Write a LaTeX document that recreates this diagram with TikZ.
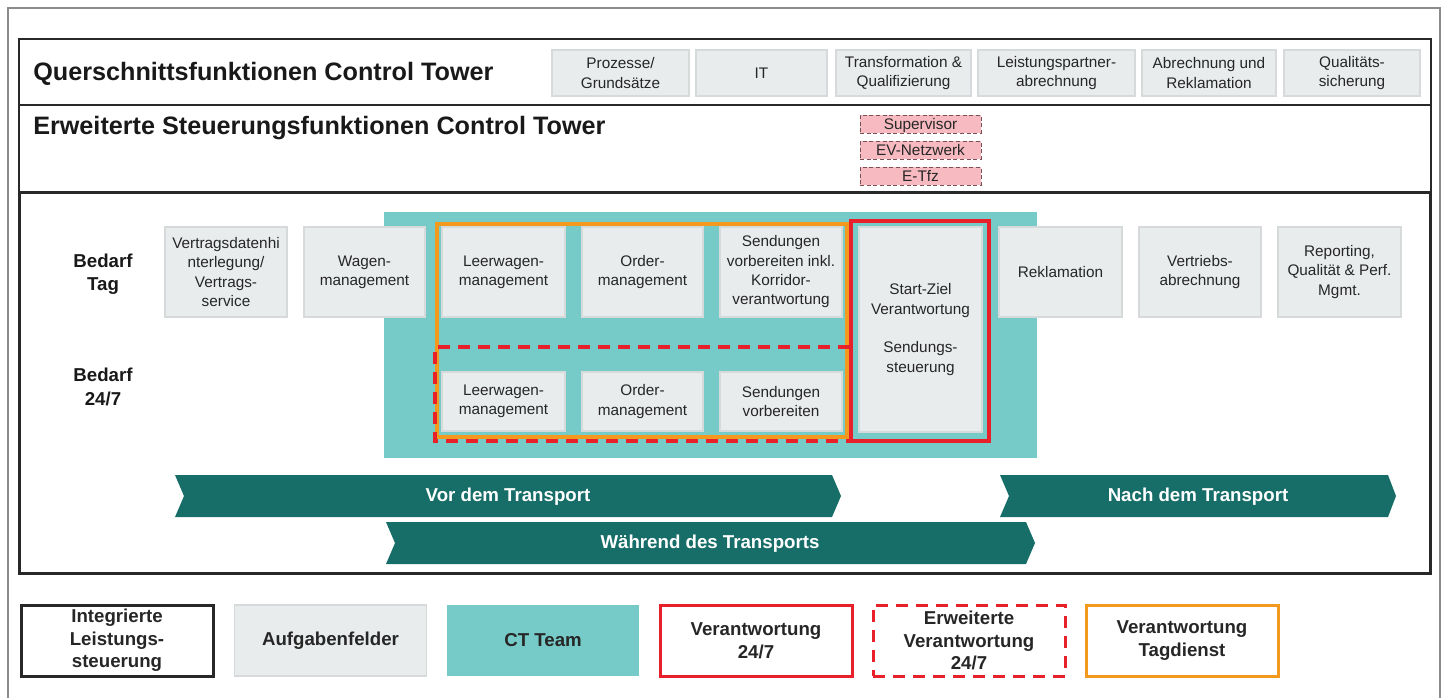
\documentclass[tikz,border=0pt]{standalone}
\usepackage{fontspec}
\setmainfont{Liberation Sans}
\usetikzlibrary{
    positioning,
    calc
}
\definecolor{BoxGray}{RGB}{233,236,237}
\definecolor{BoxLine}{RGB}{214,218,219}
\definecolor{TeamTeal}{RGB}{118,203,200}
\definecolor{PhaseTeal}{RGB}{23,110,105}
\definecolor{RespRed}{RGB}{232,32,42}
\definecolor{RespOrange}{RGB}{243,154,30}
\definecolor{PinkFill}{RGB}{246,186,192}
\definecolor{PinkLine}{RGB}{120,80,85}
\definecolor{TextDark}{RGB}{38,38,38}
\definecolor{FrameDark}{RGB}{40,40,40}

\tikzset{
    task/.style 2 args={draw=BoxLine, fill=BoxGray, line width=0.8pt, inner sep=1pt,
        align=center, text=TextDark, font=\fontsize{11.5}{14.5}\selectfont,
        minimum width={#1*0.75pt}, minimum height={#2*0.75pt}},
    role/.style={draw=PinkLine, densely dashed, line width=0.5pt, fill=PinkFill, inner sep=0pt,
        text=TextDark, font=\fontsize{11.5}{13}\selectfont, text depth=0pt,
        minimum width={121*0.75pt}, minimum height={18*0.75pt}},
    legend/.style={align=center, inner sep=1pt, text=TextDark,
        font=\fontsize{14}{17}\selectfont\bfseries,
        minimum width={192*0.75pt}, minimum height={71*0.75pt}},
    phase/.style={fill=PhaseTeal},
    phasetext/.style={text=white, font=\fontsize{14}{17}\selectfont\bfseries},
    heading/.style={anchor=west, text=black!90, inner sep=0pt, font=\fontsize{18.9}{22}\selectfont\bfseries},
    demand/.style={align=center, text=black!90, font=\fontsize{14}{17.5}\selectfont\bfseries},
}

\begin{document}
\begin{tikzpicture}[x=0.75pt, y=-0.75pt]
  \useasboundingbox (0,0) rectangle (1450,697);

  % outer frame
  \draw[black!45, line width=0.8pt] (8,700) -- (8,8) -- (1440,8) -- (1440,700);

  % ---- Querschnitt / erweiterte Funktionen ----
  \draw[FrameDark, line width=1.1pt] (19,192) -- (19,39) -- (1431,39) -- (1431,192);
  \draw[FrameDark, line width=1.1pt] (19,105) -- (1431,105);
  \node[heading] (qsTitle) at (33,74) {Querschnittsfunktionen Control Tower};
  \node[heading] (esTitle) at (33,128) {Erweiterte Steuerungsfunktionen Control Tower};

  \node[task={137}{46}] (qsProzesse) at (620.5,73) {Prozesse/\\Grundsätze};
  \node[task={131}{46}] (qsIT) at (761.5,73) {IT};
  \node[task={135}{46}] (qsTrans) at (903.5,73) {Transformation \&\\Qualifizierung};
  \node[task={157}{46}] (qsLeist) at (1056.5,73) {Leistungspartner-\\abrechnung};
  \node[task={134}{46}] (qsAbr) at (1209,73) {Abrechnung und\\Reklamation};
  \node[task={136}{46}] (qsQual) at (1352,73) {Qualitäts-\\sicherung};

  \node[role] (esSupervisor) at (920.5,124) {Supervisor};
  \node[role] (esNetz) at (920.5,150) {EV-Netzwerk};
  \node[role] (esTfz) at (920.5,176) {E-Tfz};

  % ---- Integrierte Leistungssteuerung ----
  \draw[FrameDark, line width=2.25pt] (19,192) rectangle (1430,573);

  % CT team area
  \fill[TeamTeal] (384,212) rectangle (1037,458);

  \node[demand] (bedarfTag) at (103,274) {Bedarf\\Tag};
  \node[demand] (bedarf247) at (103,387) {Bedarf\\24/7};

  % Row 1: Tag
  \node[task={122}{90}] (vertrag) at (226,272) {Vertragsdatenhi\\nterlegung/\\Vertrags-\\service};
  \node[task={121}{90}] (wagen) at (364.5,272) {Wagen-\\management};
  \node[task={123}{90}] (leerTag) at (503.5,272) {Leerwagen-\\management};
  \node[task={121}{90}] (orderTag) at (642.5,272) {Order-\\management};
  \node[task={122}{90}] (sendTag) at (781,272) {Sendungen\\vorbereiten inkl.\\Korridor-\\verantwortung};
  \node[task={123}{205}] (startZiel) at (920.5,329.5) {Start-Ziel\\Verantwortung\\[14.5pt]Sendungs-\\steuerung};
  \node[task={123}{90}] (reklamation) at (1060.5,272) {Reklamation};
  \node[task={122}{90}] (vertrieb) at (1200,272) {Vertriebs-\\abrechnung};
  \node[task={123}{90}] (reporting) at (1339.5,272) {Reporting,\\Qualität \& Perf.\\Mgmt.};

  % Row 2: 24/7
  \node[task={123}{59}] (leerNacht) at (503.5,401.5) {Leerwagen-\\management};
  \node[task={121}{59}] (orderNacht) at (642.5,401.5) {Order-\\management};
  \node[task={122}{59}] (sendNacht) at (781,401.5) {Sendungen\\vorbereiten};

  % responsibilities
  \draw[RespOrange, line width=2.4pt] (437,224) rectangle (847,437);
  \draw[RespRed, line width=2.4pt, dash pattern=on 9pt off 6pt] (850,347) -- (435,347) -- (435,441) -- (850,441);
  \draw[RespRed, line width=2.4pt] (851,221) rectangle (989,441);

  % ---- Phasen ----
  \fill[phase] (175,475) -- (832,475) -- (841,496) -- (832,517) -- (175,517) -- (184,496) -- cycle;
  \node[phasetext] (vorTransport) at (508,497) {Vor dem Transport};
  \fill[phase] (1000,475) -- (1388,475) -- (1396,496) -- (1388,517) -- (1000,517) -- (1009,496) -- cycle;
  \node[phasetext] (nachTransport) at (1198,497) {Nach dem Transport};
  \fill[phase] (386,522) -- (1026,522) -- (1035,543) -- (1026,564) -- (386,564) -- (395,543) -- cycle;
  \node[phasetext] (waehrendTransport) at (710,544) {Während des Transports};

  % ---- Legende ----
  \node[legend, draw=FrameDark, line width=2.25pt] (lgIntegriert) at (117,640.5) {Integrierte\\Leistungs-\\steuerung};
  \node[legend, draw=BoxLine, line width=0.8pt, fill=BoxGray] (lgAufgaben) at (330.5,640.5) {Aufgabenfelder};
  \node[legend, fill=TeamTeal] (lgTeam) at (543,640.5) {CT Team};
  \node[legend, draw=RespRed, line width=2.25pt] (lgRot) at (756,640.5) {Verantwortung\\24/7};
  \node[legend, draw=RespRed, line width=2.25pt, dash pattern=on 9pt off 6pt] (lgRotErw) at (969,640.5) {Erweiterte\\Verantwortung\\24/7};
  \node[legend, draw=RespOrange, line width=2.25pt] (lgOrange) at (1182,640.5) {Verantwortung\\Tagdienst};
\end{tikzpicture}
\end{document}
